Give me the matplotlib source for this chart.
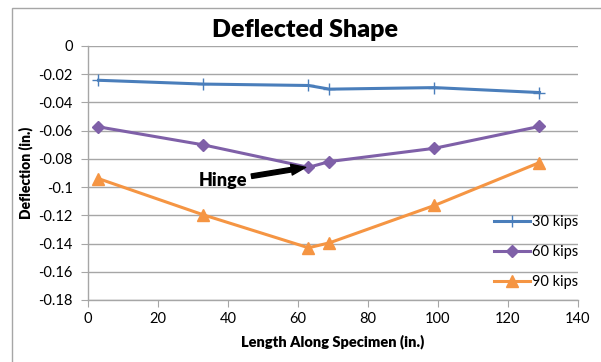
import matplotlib
matplotlib.use("Agg")
import matplotlib.pyplot as plt
from matplotlib.patches import Rectangle

plt.rcParams['font.family'] = ['Lato', 'DejaVu Sans']

# Station positions along the specimen (in.)
positions = [3, 33, 63, 69, 99, 129]
# Measured deflections (in.) for each load level
defl_30 = [-0.0243, -0.027, -0.028, -0.0306, -0.0295, -0.033]
defl_60 = [-0.0573, -0.0701, -0.086, -0.0819, -0.0725, -0.057]
defl_90 = [-0.094, -0.1197, -0.143, -0.1395, -0.113, -0.0826]
series_labels = ["30 kips", "60 kips", "90 kips"]

y_ticks = [0, -0.02, -0.04, -0.06, -0.08, -0.1, -0.12, -0.14, -0.16, -0.18]
y_tick_labels = ["0", "-0.02", "-0.04", "-0.06", "-0.08", "-0.1", "-0.12", "-0.14", "-0.16", "-0.18"]
x_ticks = [0, 20, 40, 60, 80, 100, 120, 140]

fig = plt.figure(figsize=(6.01, 3.62), dpi=100)
ax = fig.add_axes([0.1464, 0.1713, 0.8153, 0.7017])

# Chart frame
fig.patches.append(Rectangle((12 / 601, -0.1), 1.2, 1 - 8 / 362 + 0.1,
                             transform=fig.transFigure, fill=False,
                             edgecolor="#a6a6a6", linewidth=1.0))

ax.plot(positions, defl_30, color="#4a7ebb", marker="+", markersize=9,
        markeredgewidth=1.0, linewidth=2.2, label=series_labels[0])
ax.plot(positions, defl_60, color="#7f60a8", marker="D", markersize=6,
        linewidth=2.2, label=series_labels[1])
ax.plot(positions, defl_90, color="#f59543", marker="^", markersize=8,
        linewidth=2.2, label=series_labels[2])

ax.set_xlim(0, 140)
ax.set_ylim(-0.18, 0)
ax.set_xticks(x_ticks)
ax.set_xticklabels([str(t) for t in x_ticks])
ax.set_yticks(y_ticks)
ax.set_yticklabels(y_tick_labels)
ax.yaxis.grid(True, color="#a6a6a6", linewidth=1.0)
ax.set_axisbelow(True)
for side in ("top", "right"):
    ax.spines[side].set_visible(False)
for side in ("left", "bottom"):
    ax.spines[side].set_color("#a6a6a6")
    ax.spines[side].set_linewidth(1.0)
ax.tick_params(axis="both", direction="out", length=5, color="#a6a6a6",
               labelsize=10.5, labelcolor="#000000")
ax.tick_params(axis="x", pad=4)
ax.tick_params(axis="y", pad=6)

fig.text(305 / 601, 1 - 30 / 362, "Deflected Shape", fontsize=18,
         fontweight="heavy", ha="center", va="center")
ax.set_xlabel("Length Along Specimen (in.)", fontsize=10.5, fontweight="heavy", labelpad=6)
ax.set_ylabel("Deflection (in.)", fontsize=10, fontweight="heavy", labelpad=4)

ax.annotate("Hinge", xy=(positions[2] - 0.8, defl_60[2]),
            xytext=(38.6, -0.0956), fontsize=13, fontweight="heavy",
            va="center", ha="center",
            arrowprops=dict(arrowstyle="simple,head_length=0.8,head_width=0.6,tail_width=0.25",
                            color="black", shrinkA=1, shrinkB=0))

ax.legend(loc="lower right", bbox_to_anchor=(1.012, 0.02), frameon=False,
          fontsize=10.5, handlelength=2.5, handletextpad=0.1,
          labelspacing=1.1, borderaxespad=0.0)

fig.savefig("out.png", dpi=100)
